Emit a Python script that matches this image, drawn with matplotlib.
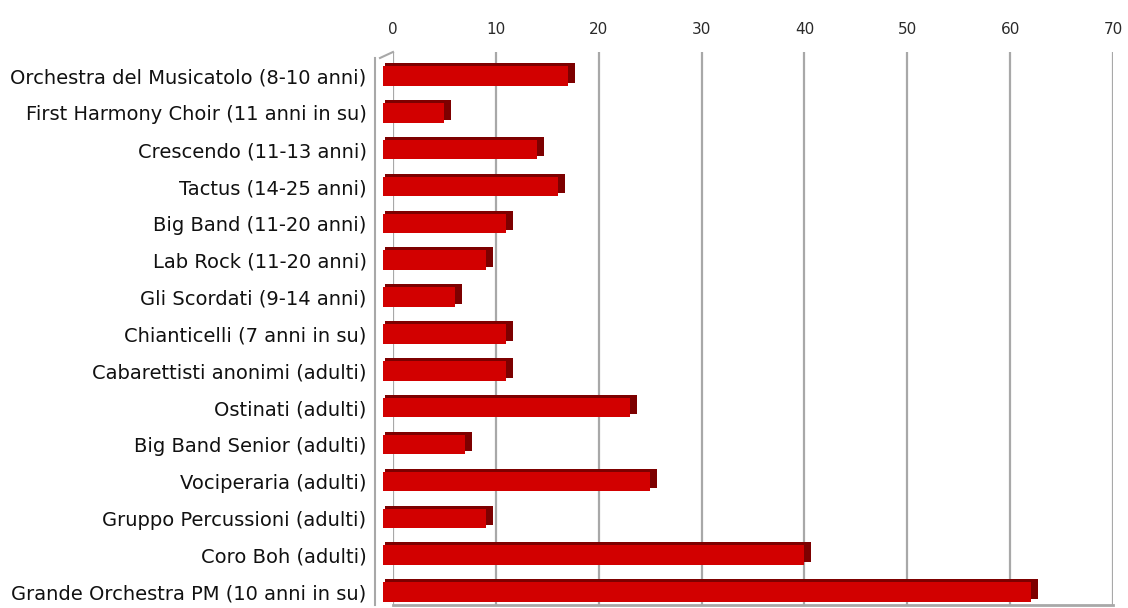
import matplotlib
matplotlib.use("Agg")
import matplotlib.pyplot as plt
from matplotlib.lines import Line2D
from matplotlib.transforms import ScaledTranslation

# data
gruppi = [
    "Orchestra del Musicatolo (8-10 anni)",
    "First Harmony Choir (11 anni in su)",
    "Crescendo (11-13 anni)",
    "Tactus (14-25 anni)",
    "Big Band (11-20 anni)",
    "Lab Rock (11-20 anni)",
    "Gli Scordati (9-14 anni)",
    "Chianticelli (7 anni in su)",
    "Cabarettisti anonimi (adulti)",
    "Ostinati (adulti)",
    "Big Band Senior (adulti)",
    "Vociperaria (adulti)",
    "Gruppo Percussioni (adulti)",
    "Coro Boh (adulti)",
    "Grande Orchestra PM (10 anni in su)",
]
iscritti = [17, 5, 14, 16, 11, 9, 6, 11, 11, 23, 7, 25, 9, 40, 62]
xticks = [0, 10, 20, 30, 40, 50, 60, 70]

plt.rcParams['font.family'] = ['DejaVu Sans']

fig = plt.figure(figsize=(11.28, 6.08), dpi=100)
ax = fig.add_axes([0.3484, 0.005, 0.6383, 0.9095])

pos = list(range(len(gruppi)))
dpi_t = fig.dpi_scale_trans

def shift(dx, dy):
    # pixel shift at 100 dpi
    return ax.transData + ScaledTranslation(dx / 100, dy / 100, dpi_t)

# fake 3d: dark top/side body behind, bright front face (two layers each)
layers = [((7, -2.5), "#7d0000"), ((-8, -2.5), "#7d0000"),
          ((0, -5.5), "#d20000"), ((-10, -5.5), "#d20000")]
for (dx, dy), col in layers:
    bars = ax.barh(pos, iscritti, height=0.53, color=col, linewidth=0,
                   zorder=3 if col == "#7d0000" else 4)
    for p in bars:
        p.set_transform(shift(dx, dy))
        p.set_clip_on(False)

ax.set_xlim(0, 70)
ax.set_ylim(len(gruppi) - 0.5, -0.5)
ax.set_xticks(xticks)
ax.xaxis.tick_top()
ax.tick_params(axis="x", length=0, pad=11, labelsize=11, labelcolor="#2a2a2a")
# labels sit level with the front faces
ax.set_yticks([p + 0.15 for p in pos])
ax.set_yticklabels(gruppi)
ax.tick_params(axis="y", length=0, pad=6, labelsize=14, labelcolor="#111111")

ax.grid(axis="x", color="#a8a8a8", linewidth=1.6, zorder=0)
ax.set_axisbelow(True)
for s in ["top", "right"]:
    ax.spines[s].set_visible(False)
ax.spines["left"].set_position(("outward", 13))
ax.spines["left"].set_color("#a8a8a8")
ax.spines["left"].set_linewidth(1.5)
ax.spines["left"].set_bounds(len(gruppi) - 0.5, -0.35)
ax.spines["bottom"].set_color("#a8a8a8")
ax.spines["bottom"].set_linewidth(2)
ax.tick_params(axis="x", bottom=False, labelbottom=False)

# small slanted edge at the top of the side wall
ax.add_line(Line2D([-13 / 720, 0], [1 - 6 / 553, 1], transform=ax.transAxes,
                   color="#a8a8a8", linewidth=1.5, clip_on=False))

plt.savefig("out.png", dpi=100)
